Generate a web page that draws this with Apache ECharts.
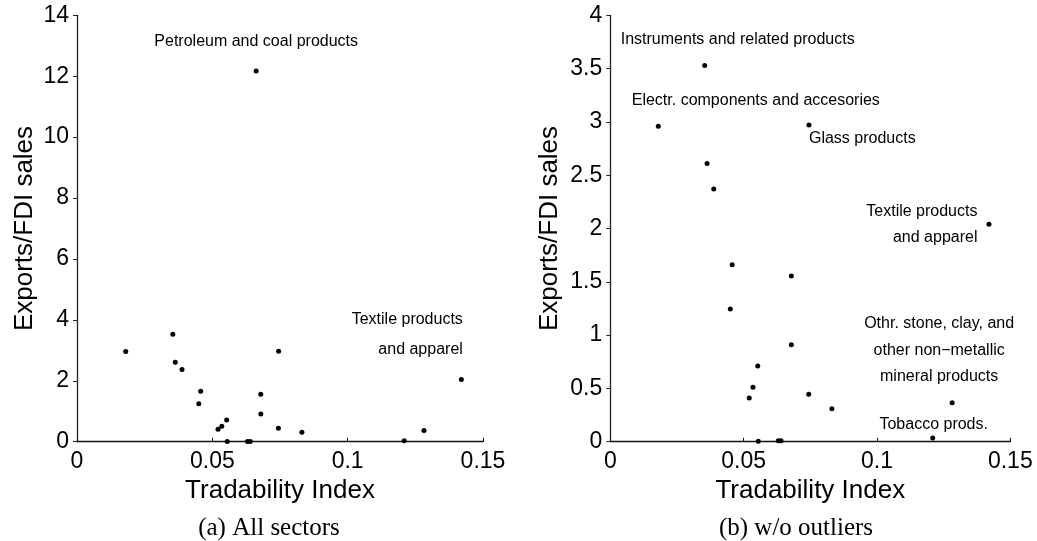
<!DOCTYPE html>
<html>
<head>
    <meta charset="utf-8">
    <title>Tradability vs exports</title>
    <script src="https://cdn.jsdelivr.net/npm/echarts@6/dist/echarts.min.js"></script>
    <style>
        html, body { margin: 0; padding: 0; background: #fff; }
    </style>
</head>
<body>
<div id="main" style="width: 1037px;height:541px;"></div>
<script type="text/javascript">
    // sectors: tradability index and exports / FDI sales
    var sectorNames = [
        'Electr. components and accesories',
        'Instruments and related products',
        '', '', '', '', '', '', '', '', '', '', '', '',
        'Glass products',
        '', '',
        'Tobacco prods.',
        'Othr. stone, clay, and\nother non\u2212metallic\nmineral products',
        'Textile products\nand apparel',
        'Petroleum and coal products'
    ];
    var tradability = [
        0.0180, 0.0354, 0.0363, 0.0388, 0.0450, 0.0457, 0.0521, 0.0535, 0.0553, 0.0555,
        0.0630, 0.0640, 0.0679, 0.0679, 0.0745, 0.0744, 0.0831, 0.1209, 0.1282, 0.1420,
        0.0662
    ];
    var exportRatio = [
        2.96, 3.53, 2.61, 2.37, 1.245, 1.66, 0.41, 0.51, 0.71, 0.005,
        0.01, 0.01, 1.555, 0.91, 2.97, 0.445, 0.31, 0.035, 0.366, 2.04,
        12.17
    ];
    var outliers = ['Petroleum and coal products'];

    var xTicks = {min: 0, max: 0.15, interval: 0.05};
    var yTicksAll = {min: 0, max: 14, interval: 2};
    var yTicksTrim = {min: 0, max: 4, interval: 0.5};

    // which labels are shown in each panel, and where they sit relative to the dot
    var labelsAll = {
        'Petroleum and coal products': {offset: [0, -29], align: 'center', lineHeight: 30},
        'Textile products\nand apparel': {offset: [1.5, -45], align: 'right', lineHeight: 30}
    };
    var labelsTrim = {
        'Instruments and related products': {offset: [33, -26], align: 'center', lineHeight: 27},
        'Electr. components and accesories': {offset: [97.5, -26], align: 'center', lineHeight: 27},
        'Glass products': {offset: [0, 13], align: 'left', lineHeight: 27},
        'Textile products\nand apparel': {offset: [-11.5, 0.5], align: 'right', lineHeight: 26.7},
        'Othr. stone, clay, and\nother non\u2212metallic\nmineral products': {offset: [-13, -52.5], align: 'center', lineHeight: 26.7},
        'Tobacco prods.': {offset: [1, -13.5], align: 'center', lineHeight: 27}
    };

    var FONT = 'Liberation Sans';

    function buildData(skipOutliers, labelMap) {
        var out = [];
        for (var i = 0; i < tradability.length; i++) {
            var nm = sectorNames[i];
            if (skipOutliers && outliers.indexOf(nm) >= 0) continue;
            var item = {value: [tradability[i], exportRatio[i]], name: nm};
            var lb = labelMap[nm];
            if (lb) {
                item.label = {
                    show: true,
                    formatter: nm,
                    position: 'inside',
                    offset: lb.offset,
                    align: lb.align,
                    verticalAlign: 'middle',
                    lineHeight: lb.lineHeight,
                    fontFamily: FONT,
                    fontSize: 16,
                    color: '#000'
                };
            }
            out.push(item);
        }
        return out;
    }

    function xAxisFor(idx) {
        return {
            gridIndex: idx,
            type: 'value',
            min: xTicks.min,
            max: xTicks.max,
            interval: xTicks.interval,
            name: 'Tradability Index',
            nameLocation: 'middle',
            nameGap: 32,
            nameTextStyle: {fontFamily: FONT, fontSize: 26, color: '#000'},
            axisLine: {show: true, onZero: false, lineStyle: {color: '#111', width: 1.3}},
            axisTick: {show: true, inside: true, length: 4, lineStyle: {color: '#111'}},
            axisLabel: {fontFamily: FONT, fontSize: 23, color: '#000', margin: 8, showMaxLabel: true, showMinLabel: true},
            splitLine: {show: false}
        };
    }

    function yAxisFor(idx, ticks, gap) {
        return {
            gridIndex: idx,
            type: 'value',
            min: ticks.min,
            max: ticks.max,
            interval: ticks.interval,
            name: 'Exports/FDI sales',
            nameLocation: 'middle',
            nameGap: gap,
            nameTextStyle: {fontFamily: FONT, fontSize: 26, color: '#000'},
            axisLine: {show: true, onZero: false, lineStyle: {color: '#222', width: 1.3}},
            axisTick: {show: true, inside: false, length: 4, lineStyle: {color: '#222'}},
            axisLabel: {fontFamily: FONT, fontSize: 23, color: '#000', margin: 8, showMaxLabel: true, showMinLabel: true},
            splitLine: {show: false}
        };
    }

    var myChart = echarts.init(document.getElementById('main'), null, {renderer: 'canvas'});

    var option = {
        backgroundColor: '#fff',
        animation: false,
        grid: [
            {left: 77, top: 15.3, width: 406, height: 426.4, outerBoundsMode: 'none'},
            {left: 610.3, top: 15.3, width: 400, height: 426.4, outerBoundsMode: 'none'}
        ],
        xAxis: [xAxisFor(0), xAxisFor(1)],
        yAxis: [yAxisFor(0, yTicksAll, 39), yAxisFor(1, yTicksTrim, 47)],
        series: [
            {
                type: 'scatter',
                xAxisIndex: 0,
                yAxisIndex: 0,
                symbolSize: 5,
                clip: false,
                itemStyle: {color: '#000', opacity: 1},
                emphasis: {disabled: true},
                data: buildData(false, labelsAll)
            },
            {
                type: 'scatter',
                xAxisIndex: 1,
                yAxisIndex: 1,
                symbolSize: 5,
                clip: false,
                itemStyle: {color: '#000', opacity: 1},
                emphasis: {disabled: true},
                data: buildData(true, labelsTrim)
            }
        ],
        graphic: [
            {
                type: 'text', x: 269, y: 528,
                style: {text: '(a) All sectors', font: '25px "Liberation Serif"', fill: '#000',
                    textAlign: 'center', textVerticalAlign: 'middle'}
            },
            {
                type: 'text', x: 796, y: 528,
                style: {text: '(b) w/o outliers', font: '25px "Liberation Serif"', fill: '#000',
                    textAlign: 'center', textVerticalAlign: 'middle'}
            }
        ]
    };

    myChart.setOption(option);
</script>
</body>
</html>
